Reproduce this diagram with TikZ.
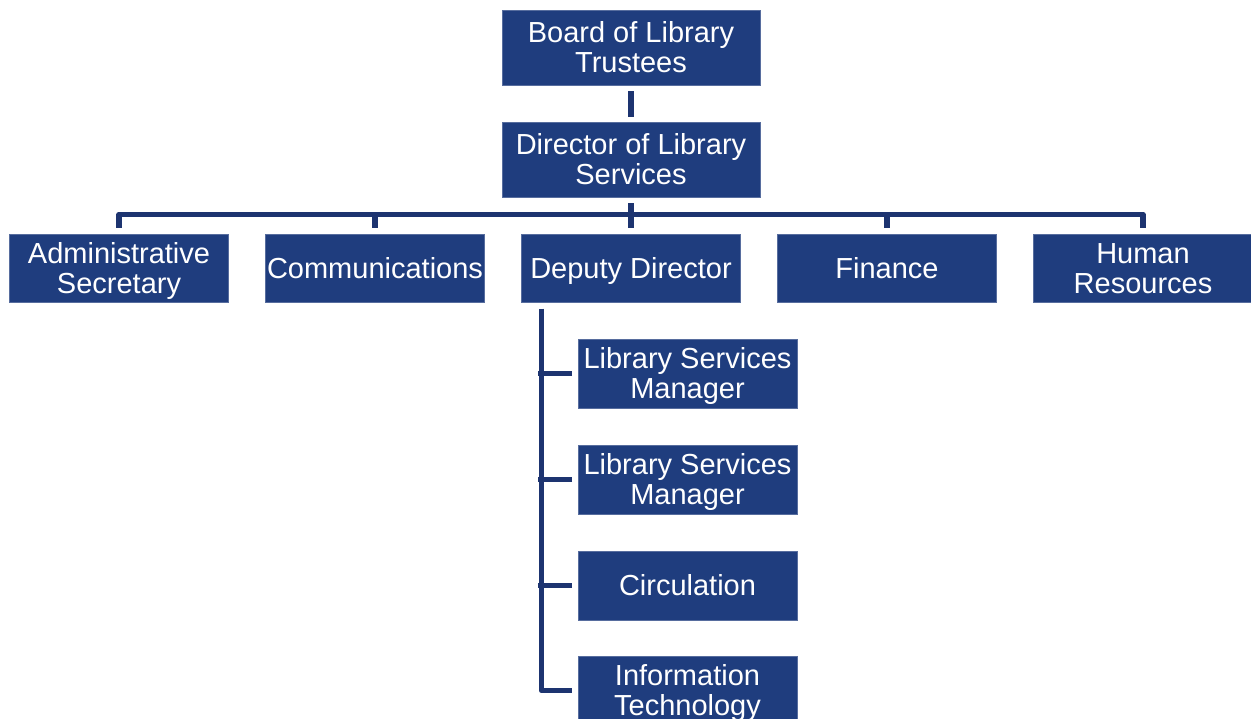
\documentclass[tikz,border=0pt]{standalone}
\usepackage{fontspec}
\setmainfont{Liberation Sans}
\usetikzlibrary{positioning}
\definecolor{boxblue}{RGB}{31,61,126}
\definecolor{linkblue}{RGB}{29,52,112}
\newcommand{\boxline}[1]{\smash{#1}\rule[-1pt]{0pt}{21pt}}

\begin{document}
\begin{tikzpicture}[x=1pt,y=-1pt,
  unit/.style={fill=boxblue,draw=boxblue!75!white,line width=0.6pt,text=white,
    font=\fontsize{29}{30}\selectfont,align=center,inner sep=0pt,outer sep=0pt,
    minimum width=219pt,minimum height=68pt},
  top/.style={unit,minimum width=258pt,minimum height=75pt},
  link/.style={draw=linkblue,line width=5.5pt,line join=round}]
  \useasboundingbox (0,0) rectangle (1251,718);

  \node[top] (board) at (631,47.5) {\boxline{Board of Library}\\\boxline{Trustees}};
  \node[top,below=37pt of board] (director) {\boxline{Director of Library}\\\boxline{Services}};

  \node[unit] (admin) at (119,268.5) {\boxline{Administrative}\\\boxline{Secretary}};
  \node[unit,right=37pt of admin] (comm) {\boxline{Communications}};
  \node[unit,right=37pt of comm] (deputy) {\boxline{Deputy Director}};
  \node[unit,right=37pt of deputy] (finance) {\boxline{Finance}};
  \node[unit,right=37pt of finance] (hr) {\boxline{Human}\\\boxline{Resources}};

  \node[unit,minimum height=69pt] (lsma) at (687.5,373.5) {\boxline{Library Services}\\\boxline{Manager}};
  \node[unit,minimum height=69pt,below=37pt of lsma] (lsmb) {\boxline{Library Services}\\\boxline{Manager}};
  \node[unit,minimum height=69pt,below=37pt of lsmb] (circ) {\boxline{Circulation}};
  \node[unit,minimum height=69pt,below=36pt of circ] (it) {\boxline{Information}\\\boxline{Technology}};

  \draw[link] ([yshift=-6pt]board.south) -- ([yshift=5pt]director.north);
  \draw[link] ([yshift=-6pt]director.south) -- ([yshift=7pt]deputy.north);
  \draw[link] ([yshift=7pt]admin.north) -- ++(0,-13) -| ([yshift=7pt]hr.north);
  \foreach \n in {comm,finance}
    \draw[link] ([yshift=7pt]\n.north) -- ++(0,-13);

  \draw[link] ([xshift=20pt,yshift=-6pt]deputy.south west) |- ([xshift=-6pt]it.west);
  \foreach \n in {lsma,lsmb,circ}
    \draw[link] ([xshift=-6pt]\n.west) -- ++(-34,0);
\end{tikzpicture}
\end{document}
